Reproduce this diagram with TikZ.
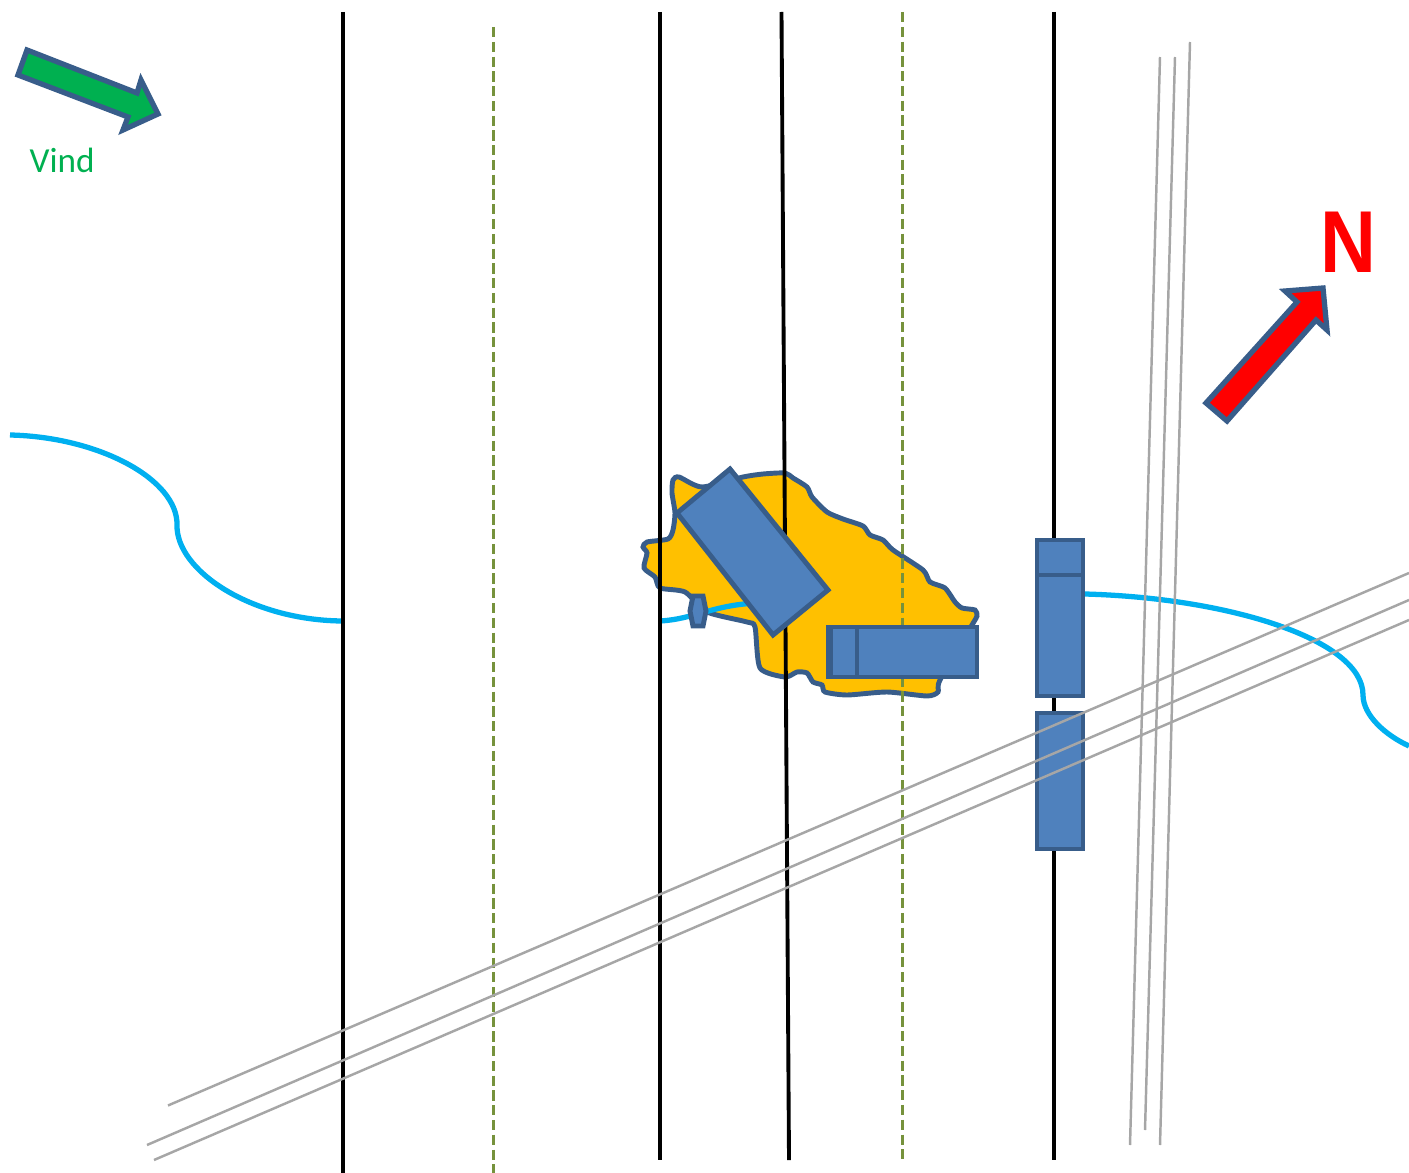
\documentclass[tikz,border=0pt]{standalone}
\usepackage{fontspec}
\setmainfont{Carlito}
\newfontfamily\northfont{Liberation Sans}
\usepackage{tikz}
\usetikzlibrary{positioning,calc}
\definecolor{edgeblue}{HTML}{385D8A}
\definecolor{fillblue}{HTML}{4F81BD}
\definecolor{lakeyellow}{HTML}{FFC000}
\definecolor{riverblue}{HTML}{00B0F0}
\definecolor{windgreen}{HTML}{00B050}
\definecolor{dashgreen}{HTML}{76923C}
\definecolor{railgrey}{HTML}{A6A6A6}

\begin{document}
\begin{tikzpicture}[
    x=0.01cm, y=-0.01cm,
    road/.style={draw=black, line width=1.1pt},
    dashline/.style={draw=dashgreen, line width=0.85pt, dash pattern=on 2.9pt off 1.3pt},
    rail/.style={draw=railgrey, line width=0.7pt},
    river/.style={draw=riverblue, line width=1.5pt},
    block/.style={draw=edgeblue, fill=fillblue, line width=1.4pt},
    bigarrow/.style={draw=edgeblue, line width=1.5pt, miter limit=10},
]
\useasboundingbox (0,0) rectangle (1409,1173);

% Lake
\draw[block, fill=lakeyellow] plot[smooth cycle, tension=0.4] coordinates {
    (675,513) (672,493) (673,480) (679,477) (702,487) (743,477) (763,474) (785,473)
    (793,478) (807,487) (812,497) (827,512) (843,519) (863,526) (870,535) (883,540)
    (893,550) (923,570) (930,582) (945,588) (955,602) (962,608) (975,610) (977,616)
    (972,625) (940,680) (938,692) (927,696) (887,692) (847,695) (825,692) (822,685)
    (813,682) (807,673) (797,672) (785,677) (760,668) (755,627) (747,622) (707,612)
    (685,592) (660,588) (655,577) (644,568) (647,553) (643,547) (647,542) (668,539)
    (673,530)};

% Rivers
\draw[river] (10,435) .. controls (100,437) and (178,480) .. (177,525)
    .. controls (176,570) and (250,620) .. (342,621);
\draw[river] (660,621) .. controls (695,619) and (715,604) .. (760,603);
\draw[river] (1085,594) .. controls (1230,598) and (1363,640) .. (1363,695)
    .. controls (1363,715) and (1385,735) .. (1409,746);

% Roads
\draw[road] (343,12) -- (343,1173);
\draw[road] (660,12) -- (660,1160);
\draw[road] (781.5,12) -- (789,1160);
\draw[road] (1054,12) -- (1054,1160);

% Dashed lines
\draw[dashline] (493.5,27) -- (493.5,1173);
\draw[dashline] (902.5,12) -- (902.5,1160);

% Buildings
\draw[block] (693,596) -- (703,596) -- (706,611) -- (703,626) -- (693,626) -- (690,611) -- cycle;
\draw[block] (730,469) -- (828,590) -- (773,635) -- (677,513) -- cycle;
\draw[block] (828,627) rectangle (977,677);
\draw[block] (831,627) rectangle (857,677);
\draw[block] (1037,540) rectangle (1083,696);
\draw[block] (1037,540) rectangle (1083,575);
\draw[block] (1037,713) rectangle (1083,849);

% Rails
\draw[rail] (168,1105.5) -- (1409,573);
\draw[rail] (147,1145) -- (1409,600);
\draw[rail] (154,1160) -- (1409,620);
\draw[rail] (1160,57) -- (1130,1145);
\draw[rail] (1175,57) -- (1145,1130);
\draw[rail] (1190,42) -- (1160,1145);

% Wind
\draw[bigarrow, fill=windgreen] (27,50) -- (137,93) -- (141,80) -- (158,114) -- (123,130)
    -- (128,117) -- (18,75) -- cycle;
\node[text=windgreen, font=\fontsize{10}{12}\selectfont, anchor=west, inner sep=0pt] (vind) at (29,160) {Vind};

% North
\draw[bigarrow, fill=red] (1206,403) -- (1297,302) -- (1285,291) -- (1323,288) -- (1327,330)
    -- (1316,320) -- (1227,421) -- cycle;
\node[text=red, font=\northfont\fontsize{25}{30}\selectfont\bfseries, inner sep=0pt, xscale=0.88] (north) at (1348,242) {N};
\end{tikzpicture}
\end{document}
